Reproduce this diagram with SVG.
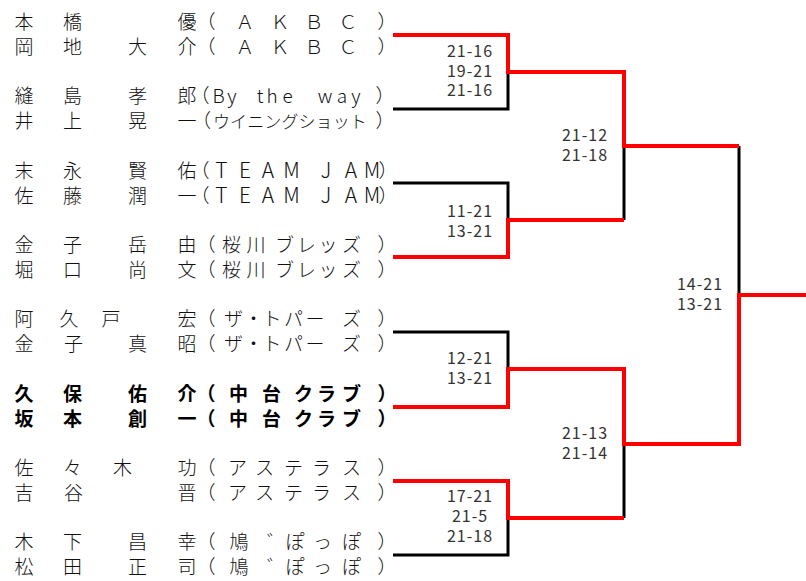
<svg xmlns="http://www.w3.org/2000/svg" width="806" height="581" viewBox="0 0 806 581">
<style>
.nm{font-family:"Noto Sans CJK JP","Noto Sans CJK SC",sans-serif;font-size:19px;font-weight:300;fill:#111;text-anchor:middle}
.b{font-weight:bold;fill:#000}
.sc{font-family:"Noto Sans CJK JP","Noto Sans CJK SC",sans-serif;font-size:16px;font-weight:400;fill:#333;text-anchor:middle;letter-spacing:1px}
.red{stroke:#ff0000;stroke-width:4;fill:none;stroke-linejoin:miter}
.blk{stroke:#000;stroke-width:3;fill:none}
.sm{font-size:17px}
.lg{font-size:21px}
</style>
<rect width="806" height="581" fill="#fff"/>
<g id="connectors">
<path class="blk" d="M393 109H508V72M393 183H508V220M393 332H508V369M393 555H508V518M624 146V220M624 444V518M739 146V295"/>
<path class="red" d="M393 35H508V72H624V146H739"/>
<path class="red" d="M393 257H508V220H624"/>
<path class="red" d="M393 407H508V369H624V444H739V295H806"/>
<path class="red" d="M393 481H508V518H624"/>
</g>
<g id="players">
<g id="p01"><text class="nm" x="24 72.5 187 206 245 280 314 348 387" y="29">本橋優（ＡＫＢＣ）</text></g>
<g id="p02"><text class="nm" x="24 72.5 137.5 187 206 245 280 314 348 387" y="54">岡地大介（ＡＫＢＣ）</text></g>
<g id="p03"><text class="nm" x="24 72.5 137.5 187 200 218.5 232 246 260 272 287.5 306 325 342 356 385" y="103.3">縫島孝郎（By the way）</text></g>
<g id="p04"><text class="nm" x="24 72.5 137.5 187 201.5 221.5 238.6 255.7 272.8 289.9 307 324.1 341.2 358.3 385" y="128.3">井上晃一（<tspan class="sm">ウイニングショット</tspan>）</text></g>
<g id="p05"><text class="nm" x="24 72.5 137.5 187 200 221.5 245 268 291.5 308 326 351 372 388" y="177.5">末永賢佑（<tspan class="lg">TEAM JAM</tspan>）</text></g>
<g id="p06"><text class="nm" x="24 72.5 137.5 187 200 221.5 245 268 291.5 308 326 351 372 388" y="202.5">佐藤潤一（<tspan class="lg">TEAM JAM</tspan>）</text></g>
<g id="p07"><text class="nm" x="24 72.5 137.5 187 206 231.5 256 284.5 306.5 328 351.5 387" y="251.8">金子岳由（桜川ブレッズ）</text></g>
<g id="p08"><text class="nm" x="24 72.5 137.5 187 206 231.5 256 284.5 306.5 328 351.5 387" y="276.8">堀口尚文（桜川ブレッズ）</text></g>
<g id="p09"><text class="nm" x="24 69 111 187 206 233.5 253.5 272 293.5 315 351.5 387" y="326.2">阿久戸宏（ザ・トパーズ）</text></g>
<g id="p10"><text class="nm" x="24 73.5 137.5 187 206 233.5 253.5 272 293.5 315 351.5 387" y="351.2">金子真昭（ザ・トパーズ）</text></g>
<g id="p11"><text class="nm b" x="24 72.5 137.5 187 206 238.5 271.5 303.5 326.5 351.5 387" y="400.5">久保佑介（中台クラブ）</text></g>
<g id="p12"><text class="nm b" x="24 72.5 137.5 187 206 238.5 271.5 303.5 326.5 351.5 387" y="425.5">坂本創一（中台クラブ）</text></g>
<g id="p13"><text class="nm" x="24 72.5 122.5 187 206 237.5 264.5 293.5 321.5 351.5 387" y="474.8">佐々木功（アステラス）</text></g>
<g id="p14"><text class="nm" x="24 73.5 187 206 237.5 264.5 293.5 321.5 351.5 387" y="499.8">吉谷晋（アステラス）</text></g>
<g id="p15"><text class="nm" x="24 72.5 137.5 187 206 239 276.5 295 322.5 351.5 387" y="549.1">木下昌幸（鳩゛ぽっぽ）</text></g>
<g id="p16"><text class="nm" x="24 72.5 137.5 187 206 239 276.5 295 322.5 351.5 387" y="574.1">松田正司（鳩゛ぽっぽ）</text></g>
</g>
<g id="scores">
<g id="s-m1"><text class="sc" x="470" y="56.5">21-16</text><text class="sc" x="470" y="76.5">19-21</text><text class="sc" x="470" y="96">21-16</text></g>
<g id="s-m2"><text class="sc" x="470" y="216.5">11-21</text><text class="sc" x="470" y="236.5">13-21</text></g>
<g id="s-m3"><text class="sc" x="470" y="364">12-21</text><text class="sc" x="470" y="384">13-21</text></g>
<g id="s-m4"><text class="sc" x="470" y="502">17-21</text><text class="sc" x="470" y="522">21-5</text><text class="sc" x="470" y="542">21-18</text></g>
<g id="s-sf1"><text class="sc" x="585" y="140.5">21-12</text><text class="sc" x="585" y="160.5">21-18</text></g>
<g id="s-sf2"><text class="sc" x="585" y="439">21-13</text><text class="sc" x="585" y="458.5">21-14</text></g>
<g id="s-f"><text class="sc" x="700" y="289.5">14-21</text><text class="sc" x="700" y="309.5">13-21</text></g>
</g>
</svg>
